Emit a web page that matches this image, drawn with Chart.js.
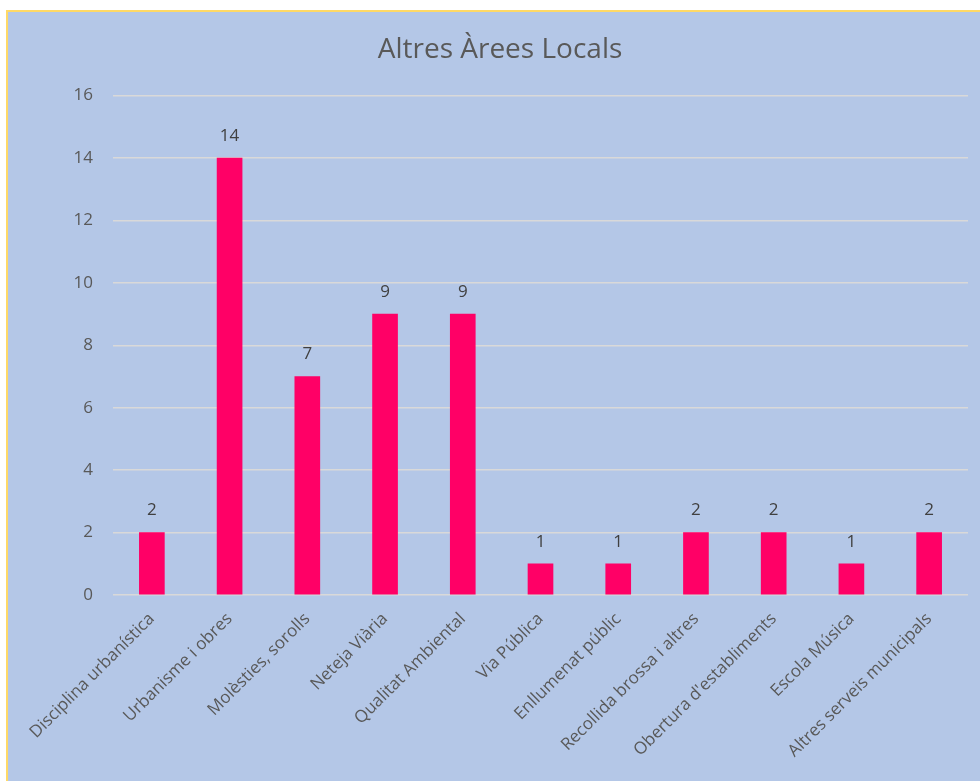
<!DOCTYPE html>
<html lang="ca">
  <head>
    <meta charset="UTF-8" />
    <title>Altres Àrees Locals</title>
    <script src="https://cdn.jsdelivr.net/npm/chart.js"></script>
    <style>
      body {
        margin: 0;
        background: #fff;
        overflow: hidden;
      }
      .chart-box {
        position: absolute;
        left: 6px;
        top: 10px;
        width: 990px;
        height: 790px;
        background: #b4c7e7;
        border: 2px solid #ffd966;
      }
      .chart-box canvas {
        position: absolute;
        left: 0;
        top: 0;
      }
    </style>
  </head>
  <body>
    <div class="chart-box">
      <canvas id="myChart" width="984" height="769"></canvas>
    </div>
    <script>
      const labels = [
        "Disciplina urbanística",
        "Urbanisme i obres",
        "Molèsties, sorolls",
        "Neteja Viària",
        "Qualitat Ambiental",
        "Via Pública",
        "Enllumenat públic",
        "Recollida brossa i altres",
        "Obertura d'establiments",
        "Escola Música",
        "Altres serveis municipals",
      ];
      const values = [2, 14, 7, 9, 9, 1, 1, 2, 2, 1, 2];
      const yTicks = [0, 2, 4, 6, 8, 10, 12, 14, 16];

      const font = "'Open Sans', 'Noto Sans', sans-serif";

      // values above each bar
      const valueLabels = {
        id: "valueLabels",
        afterDatasetsDraw(chart) {
          const c = chart.ctx;
          const meta = chart.getDatasetMeta(0);
          c.save();
          c.font = "17px " + font;
          c.fillStyle = "#404040";
          c.textAlign = "center";
          c.textBaseline = "middle";
          meta.data.forEach(function (bar, i) {
            c.fillText(values[i], bar.x, bar.y - 22);
          });
          c.restore();
        },
      };

      const ctx = document.getElementById("myChart");
      new Chart(ctx, {
        type: "bar",
        data: {
          labels: labels,
          datasets: [
            {
              label: "Altres Àrees Locals",
              data: values,
              backgroundColor: "#ff0066",
              barThickness: 25,
            },
          ],
        },
        options: {
          responsive: false,
          animation: false,
          layout: { padding: { left: 24, right: 24, top: 0, bottom: 0 } },
          scales: {
            y: {
              min: 0,
              max: 16,
              afterFit(scale) {
                scale.width = 81;
              },
              afterBuildTicks(scale) {
                scale.ticks = yTicks.map((v) => ({ value: v }));
              },
              grid: { color: "#d9d9d9", lineWidth: 1.5, drawTicks: false },
              border: { display: false },
              ticks: { color: "#595959", font: { size: 17, family: font }, padding: 20 },
            },
            x: {
              afterFit(scale) {
                scale.height = 186;
              },
              grid: { display: false, drawTicks: false },
              border: { display: false },
              ticks: {
                color: "#595959",
                font: { size: 17, family: font },
                maxRotation: 45,
                minRotation: 45,
                padding: 14,
                autoSkip: false,
              },
            },
          },
          plugins: {
            legend: { display: false },
            tooltip: { enabled: false },
            title: {
              display: true,
              text: "Altres Àrees Locals",
              color: "#595959",
              font: { size: 28, family: font, weight: "normal" },
              padding: { top: 21, bottom: 29 },
            },
          },
        },
        plugins: [valueLabels],
      });
    </script>
  </body>
</html>
